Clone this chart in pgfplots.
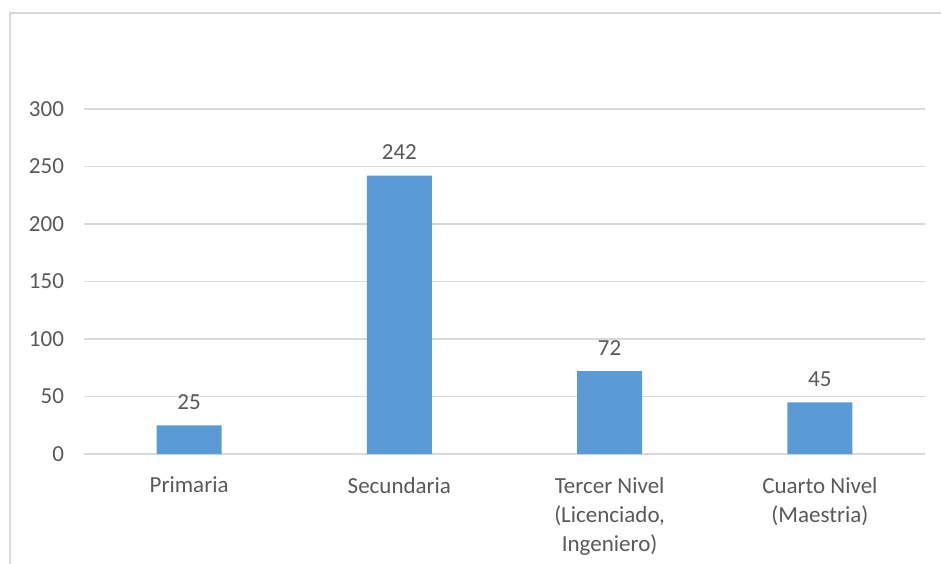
\documentclass[border=0pt]{standalone}
\usepackage{fontspec}
\setmainfont{Carlito}
\usepackage{pgfplots}
\pgfplotsset{compat=1.18}
\definecolor{barblue}{RGB}{91,155,213}
\definecolor{txtgray}{RGB}{89,89,89}
\definecolor{gridgray}{RGB}{217,217,217}
\begin{document}
\begin{tikzpicture}[x=1pt,y=1pt]
\useasboundingbox (-42,-54.5) rectangle (428.5,227);
\clip (-42,-54.5) rectangle (428.5,227);
\draw[gridgray, line width=0.9pt] (-37,-80) -- (-37,220.5) -- (460,220.5);
\begin{axis}[
  at={(0,0)}, anchor=south west,
  scale only axis, width=420.5pt, height=172.5pt,
  xmin=-0.5, xmax=3.5, ymin=0, ymax=300,
  ybar, bar width=32.5pt,
  xtick={0,1,2,3},
  xticklabels={Primaria, Secundaria, {Tercer Nivel\\(Licenciado,\\Ingeniero)}, {Cuarto Nivel\\(Maestria)}},
  ytick={0,50,...,300},
  axis line style={draw=none},
  major tick length=0pt,
  ymajorgrids, grid style={gridgray, line width=0.6pt},
  tick label style={font=\fontsize{11.5}{14.5}\selectfont, text=txtgray},
  /pgf/number format/assume math mode=true,
  xticklabel style={align=center, anchor=north, yshift=-8pt},
  yticklabel style={xshift=-6.5pt},
  nodes near coords,
  every node near coord/.append style={font=\fontsize{11.5}{14.5}\selectfont, text=txtgray, yshift=4.5pt},
  clip=false,
]
\addplot[fill=barblue, draw=none] coordinates {(0,25) (1,242) (2,72) (3,45)};
\end{axis}
\end{tikzpicture}
\end{document}
